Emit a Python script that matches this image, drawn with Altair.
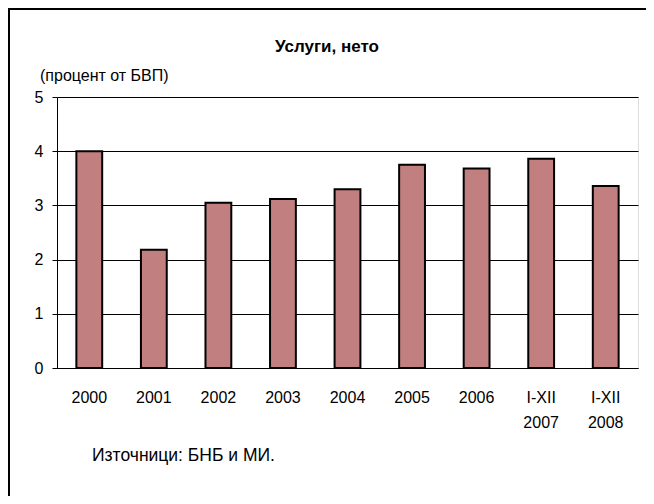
import altair as alt
import pandas as pd

categories = ["2000", "2001", "2002", "2003", "2004", "2005", "2006", "I-XII\n2007", "I-XII\n2008"]
values = [4.00, 2.18, 3.05, 3.12, 3.30, 3.75, 3.68, 3.86, 3.36]
title_text = "Услуги, нето"
unit_text = "(процент от БВП)"
source_text = "Източници: БНБ и МИ."

df = pd.DataFrame({"cat": categories, "val": values})
one = pd.DataFrame({"a": [0]})

FONT = "Liberation Sans"
W, H = 581, 271

bars = alt.Chart(df).mark_bar(
    fill="#c27f7f", stroke="black", strokeWidth=2
).encode(
    x=alt.X("cat:N", sort=categories,
            scale=alt.Scale(paddingInner=0.6, paddingOuter=0.3),
            axis=alt.Axis(title=None, labelAngle=0, ticks=False, domainColor="black",
                          labelExpr="split(datum.label, '\\n')", labelFont=FONT,
                          labelFontSize=16, labelColor="black", labelPadding=21,
                          labelLineHeight=25, grid=False)),
    y=alt.Y("val:Q", scale=alt.Scale(domain=[0, 5], nice=False),
            axis=alt.Axis(title=None, values=[0, 1, 2, 3, 4, 5], tickSize=5, tickColor="black",
                          gridColor="black", gridOpacity=1, domainColor="black",
                          labelFont=FONT, labelFontSize=16, labelColor="black",
                          labelPadding=9)),
)

title = alt.Chart(one).mark_text(
    text=title_text, font=FONT, fontSize=17, fontWeight="bold", align="center", baseline="middle", color="black"
).encode(x=alt.value(270), y=alt.value(-50))

unit = alt.Chart(one).mark_text(
    text=unit_text, font=FONT, fontSize=16, align="left", baseline="middle", color="black"
).encode(x=alt.value(-17), y=alt.value(-21))

source = alt.Chart(one).mark_text(
    text=source_text, font=FONT, fontSize=17.5, align="left", baseline="middle", color="black"
).encode(x=alt.value(35), y=alt.value(359))

frame = alt.Chart(one).mark_rect(
    fill="transparent", stroke="black", strokeWidth=2
).encode(x=alt.value(-48), y=alt.value(-88), x2=alt.value(700), y2=alt.value(600))

chart = alt.layer(bars, title, unit, source, frame).properties(
    width=W, height=H,
    autosize=alt.AutoSizeParams(type="none"),
    padding={"left": 49, "top": 89, "right": 8, "bottom": 128},
).configure_view(stroke="#808080", strokeWidth=1).configure(background="white")

chart.save("out.html", embed_options={"renderer": "svg", "actions": False})
